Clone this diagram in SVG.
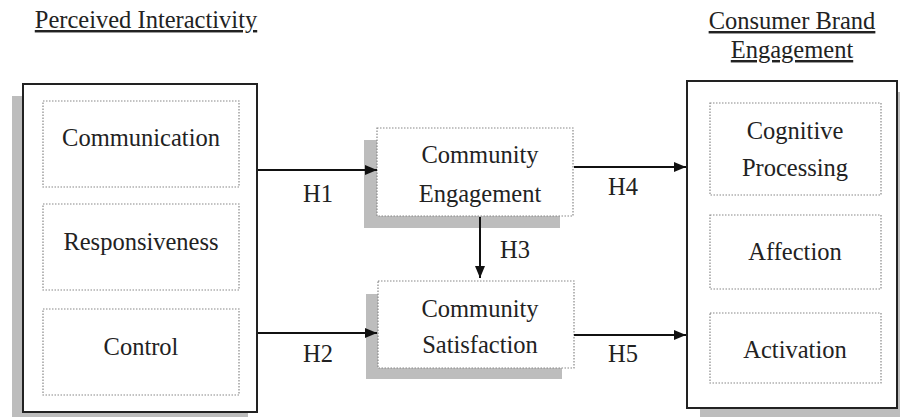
<svg xmlns="http://www.w3.org/2000/svg" width="900" height="419" viewBox="0 0 900 419">
<defs>
<marker id="ah" markerWidth="12" markerHeight="10" refX="12" refY="5" orient="auto" markerUnits="userSpaceOnUse">
<path d="M0,0 L12,5 L0,10 Z" fill="#111"/>
</marker>
</defs>
<style>
.t{font-size:24.5px;fill:#222;text-anchor:middle}
.t tspan{font-family:'Liberation Serif','Times New Roman',serif}
.ttl{text-decoration:underline}
.outer{fill:#fff;stroke:#222;stroke-width:2}
.inner{fill:#fff;stroke:#888;stroke-width:1.2;stroke-dasharray:1.5 1.5}
.shadow{fill:#bdbdbd}
.conn line{stroke:#111;stroke-width:2}
</style>
<rect width="900" height="419" fill="#fff"/>
<g id="title-left"><text class="t ttl" font-family="Liberation Serif" x="146" y="28">Perceived Interactivity</text></g>
<g id="title-right"><text class="t ttl" font-family="Liberation Serif" x="792" y="29">Consumer Brand</text><text class="t ttl" font-family="Liberation Serif" x="792" y="58">Engagement</text></g>
<g id="perceived-interactivity">
<rect class="shadow" x="12" y="96" width="236" height="321"/>
<rect class="outer" x="23" y="84" width="234" height="328"/>
</g>
<g id="communication"><rect class="inner" x="43" y="101" width="196" height="86"/><g><text class="t" font-family="Liberation Serif" x="141" y="146"><tspan font-family="Liberation Serif">Communication</tspan></text></g></g>
<g id="responsiveness"><rect class="inner" x="43" y="204" width="196" height="86"/><g><text class="t" font-family="Liberation Serif" x="141" y="250"><tspan font-family="Liberation Serif">Responsiveness</tspan></text></g></g>
<g id="control"><rect class="inner" x="43" y="309" width="196" height="86"/><g><text class="t" font-family="Liberation Serif" x="141" y="355"><tspan font-family="Liberation Serif">Control</tspan></text></g></g>
<g id="community-engagement">
<rect class="shadow" x="364" y="140" width="196" height="88"/>
<rect class="inner" x="377" y="128" width="196" height="88"/>
<g><text class="t" font-family="Liberation Serif" x="480" y="163"><tspan font-family="Liberation Serif">Community</tspan></text><text class="t" font-family="Liberation Serif" x="480" y="202"><tspan font-family="Liberation Serif">Engagement</tspan></text></g>
</g>
<g id="community-satisfaction">
<rect class="shadow" x="366" y="294" width="196" height="85"/>
<rect class="inner" x="378" y="281" width="196" height="87"/>
<g><text class="t" font-family="Liberation Serif" x="480" y="317"><tspan font-family="Liberation Serif">Community</tspan></text><text class="t" font-family="Liberation Serif" x="480" y="353"><tspan font-family="Liberation Serif">Satisfaction</tspan></text></g>
</g>
<g id="consumer-brand-engagement">
<rect class="shadow" x="700" y="92" width="210" height="325"/>
<rect class="outer" x="687" y="81" width="210" height="327"/>
</g>
<g id="cognitive-processing"><rect class="inner" x="710" y="103" width="171" height="92"/><g><text class="t" font-family="Liberation Serif" x="795" y="139"><tspan font-family="Liberation Serif">Cognitive</tspan></text><text class="t" font-family="Liberation Serif" x="795" y="176"><tspan font-family="Liberation Serif">Processing</tspan></text></g></g>
<g id="affection"><rect class="inner" x="710" y="215" width="171" height="74"/><g><text class="t" font-family="Liberation Serif" x="795" y="260"><tspan font-family="Liberation Serif">Affection</tspan></text></g></g>
<g id="activation"><rect class="inner" x="710" y="313" width="171" height="70"/><g><text class="t" font-family="Liberation Serif" x="795" y="358"><tspan font-family="Liberation Serif">Activation</tspan></text></g></g>
<g id="connectors" class="conn">
<line x1="258" y1="170" x2="377" y2="170" marker-end="url(#ah)"/>
<line x1="258" y1="333" x2="377" y2="333" marker-end="url(#ah)"/>
<line x1="480" y1="217" x2="480" y2="278" marker-end="url(#ah)"/>
<line x1="574" y1="167" x2="686" y2="167" marker-end="url(#ah)"/>
<line x1="574" y1="335" x2="686" y2="335" marker-end="url(#ah)"/>
<g>
<text class="t" font-family="Liberation Serif" x="318" y="202"><tspan font-family="Liberation Serif">H1</tspan></text>
<text class="t" font-family="Liberation Serif" x="318" y="362"><tspan font-family="Liberation Serif">H2</tspan></text>
<text class="t" font-family="Liberation Serif" x="515" y="258"><tspan font-family="Liberation Serif">H3</tspan></text>
<text class="t" font-family="Liberation Serif" x="623" y="195"><tspan font-family="Liberation Serif">H4</tspan></text>
<text class="t" font-family="Liberation Serif" x="623" y="362"><tspan font-family="Liberation Serif">H5</tspan></text>
</g>
</g>
</svg>
